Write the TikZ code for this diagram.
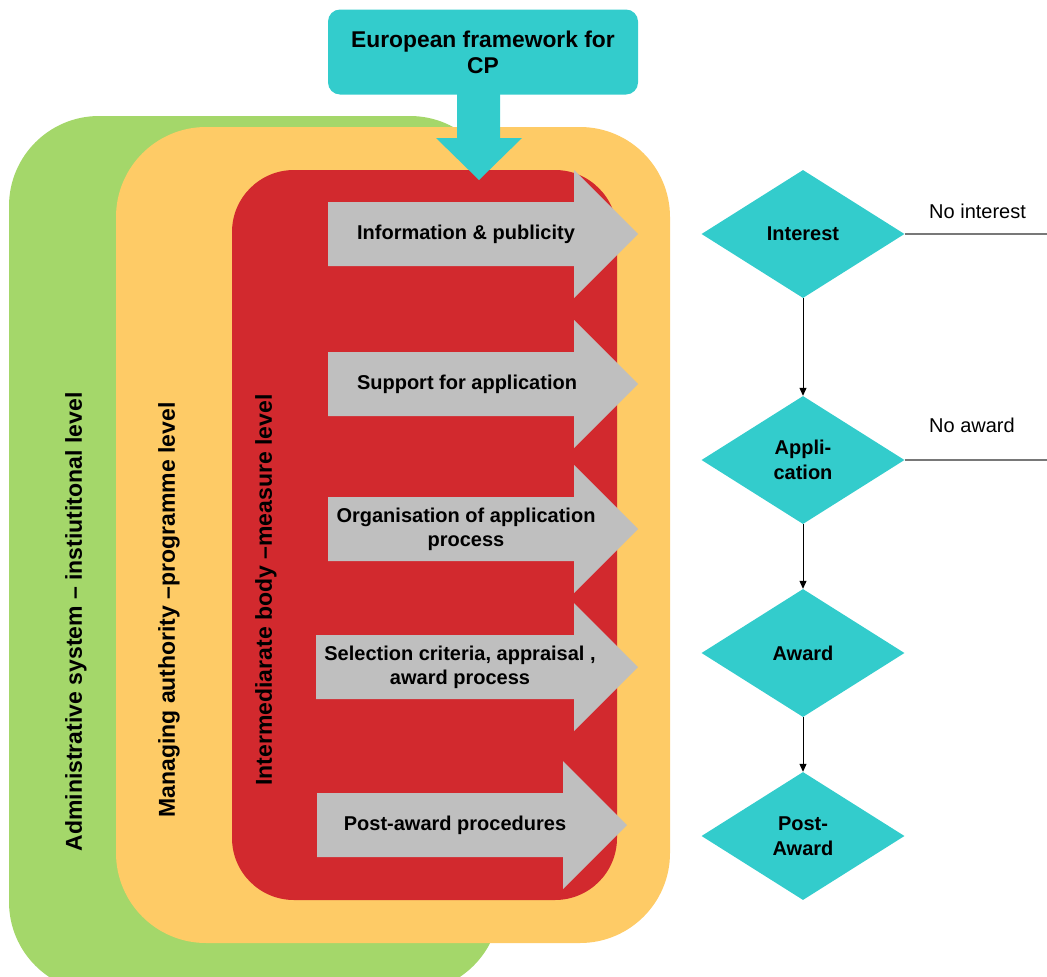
\documentclass[tikz,border=0pt]{standalone}
\usepackage{fontspec}
\setmainfont{Liberation Sans}
\usetikzlibrary{shapes.geometric,arrows.meta,positioning}
\definecolor{lvlgreen}{RGB}{164,215,106}
\definecolor{lvlorange}{RGB}{254,203,102}
\definecolor{lvlred}{RGB}{210,41,46}
\definecolor{euteal}{RGB}{51,204,204}
\definecolor{stepgray}{RGB}{191,191,191}
\definecolor{exitgray}{RGB}{120,120,120}
\tikzset{
  lvltext/.style={rotate=90,inner sep=0pt,font=\bfseries\fontsize{23}{27}\selectfont},
  steptext/.style={inner sep=0pt,align=center,font=\bfseries\fontsize{20}{24}\selectfont},
  decision/.style={diamond,fill=euteal,minimum width=203pt,minimum height=128pt,inner sep=0pt,
    align=center,font=\bfseries\fontsize{20}{25}\selectfont},
  flow/.style={-{Triangle[length=8pt,width=7pt]},line width=1pt},
  exitline/.style={exitgray,line width=1.2pt},
  exittext/.style={anchor=west,inner sep=0pt,font=\fontsize{20}{24}\selectfont}
}
\newcommand{\steparrow}[3]{%
  \fill[stepgray] (#1,#3-32) -- (#2,#3-32) -- (#2,#3-64) -- (#2+64,#3)
    -- (#2,#3+64) -- (#2,#3+32) -- (#1,#3+32) -- cycle;}

\begin{document}
\begin{tikzpicture}[x=1pt,y=-1pt]
  \clip (0,0) rectangle (1047,977);
  \fill[lvlgreen,rounded corners=90pt] (9,116) rectangle (500,992);
  \fill[lvlorange,rounded corners=90pt] (116,127) rectangle (670,943);
  \fill[lvlred,rounded corners=62pt] (232,170) rectangle (617,900);

  \steparrow{328}{574}{234}
  \steparrow{328}{574}{384}
  \steparrow{328}{574}{529}
  \steparrow{316}{574}{667}
  \steparrow{317}{563}{825}

  \node[steptext] (info) at (466,234) {Information \& publicity};
  \node[steptext] (support) at (467,384) {Support for application};
  \node[steptext] (organise) at (466,529) {Organisation of application\\process};
  \node[steptext] (select) at (460,667) {Selection criteria, appraisal ,\\award process};
  \node[steptext] (postproc) at (455,825) {Post-award procedures};

  \node[lvltext] (admlbl) at (76,622) {Administrative system -- instiutitonal level};
  \node[lvltext] (manlbl) at (169,610) {Managing authority --programme level};
  \node[lvltext] (intlbl) at (266,590) {Intermediarate body --measure level};

  \fill[euteal] (457,90) -- (500,90) -- (500,138) -- (522,138) -- (479,180)
    -- (436,138) -- (457,138) -- cycle;
  \node[fill=euteal,rounded corners=12pt,minimum width=310pt,minimum height=85pt,
    align=center,font=\bfseries\fontsize{22.8}{26}\selectfont] (eu) at (483,52)
    {European framework for\\CP};

  \node[decision] (interest) at (803,234) {Interest};
  \node[decision] (appl) at (803,460) {Appli-\\cation};
  \node[decision] (award) at (803,653) {Award};
  \node[decision] (postaward) at (803,836) {Post-\\Award};

  \draw[flow] (interest) -- (appl);
  \draw[flow] (appl) -- (award);
  \draw[flow] (award) -- (postaward);

  \coordinate (noint) at (1047,234);
  \coordinate (noaward) at (1047,460);
  \draw[exitline] (interest.east) -- (noint);
  \draw[exitline] (appl.east) -- (noaward);
  \node[exittext] (nointlbl) at (929,211) {No interest};
  \node[exittext] (noawardlbl) at (929,425) {No award};
\end{tikzpicture}
\end{document}
